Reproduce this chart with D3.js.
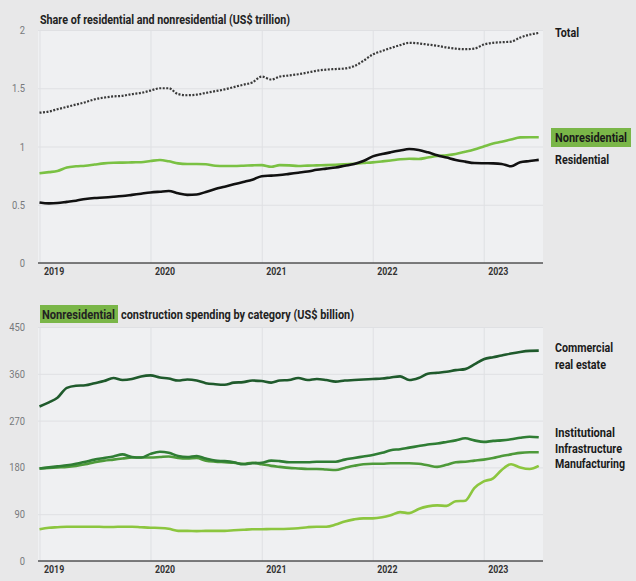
<!DOCTYPE html>
<html>
<head>
<meta charset="utf-8">
<script src="https://cdn.jsdelivr.net/npm/d3@7/dist/d3.min.js"></script>
<style>
  html, body { margin: 0; padding: 0; background: #e8e8e9; }
  svg { display: block; }
</style>
</head>
<body>
<svg id="chart" width="636" height="581"></svg>
<script>
// ---------- DATA ----------
const startYear = 2019;              // monthly series begin Jan 2019
const yearTicks = [2019, 2020, 2021, 2022, 2023];

const total = [1.29,1.30,1.32,1.34,1.36,1.38,1.405,1.42,1.43,1.435,1.45,1.46,1.48,1.50,1.50,1.45,1.44,1.445,1.46,1.475,1.49,1.51,1.53,1.55,1.60,1.575,1.60,1.61,1.62,1.635,1.65,1.66,1.665,1.67,1.69,1.735,1.79,1.82,1.845,1.87,1.89,1.885,1.875,1.865,1.85,1.84,1.835,1.84,1.875,1.89,1.895,1.90,1.935,1.96,1.975];
const nonresidential = [0.77,0.78,0.79,0.82,0.83,0.835,0.845,0.855,0.86,0.862,0.864,0.865,0.875,0.884,0.873,0.855,0.85,0.85,0.848,0.835,0.833,0.833,0.835,0.838,0.84,0.826,0.84,0.838,0.833,0.836,0.838,0.84,0.843,0.847,0.852,0.858,0.864,0.872,0.88,0.89,0.895,0.893,0.905,0.918,0.925,0.936,0.955,0.975,1.0,1.025,1.04,1.06,1.078,1.08,1.08];
const residential = [0.52,0.512,0.515,0.525,0.535,0.55,0.558,0.562,0.568,0.575,0.585,0.595,0.605,0.612,0.618,0.598,0.585,0.588,0.61,0.635,0.655,0.675,0.695,0.715,0.745,0.75,0.755,0.765,0.775,0.785,0.80,0.81,0.82,0.835,0.85,0.875,0.915,0.935,0.95,0.965,0.978,0.97,0.95,0.925,0.905,0.885,0.87,0.858,0.856,0.855,0.85,0.83,0.865,0.875,0.885];

const commercial = [297,305,314,333,337,338,342,346,352,348,350,355,357,353,351,347,349,347,342,340,339,343,344,347,346,343,347,348,352,348,350,348,345,347,348,349,350,351,353,355,348,352,360,362,364,367,369,378,388,392,395,399,402,404,404.5];
const institutional = [178,180,182,184,187,191,195,198,201,205,200,199,206,210,208,202,200,202,197,193,192,190,186,188,189,193,192,190,190,190,191,191,191,195,198,201,204,208,213,215,218,221,224,226,229,232,236,232,229,231,232,234,237,239,238];
const infrastructure = [178,179,180,181,183,186,190,193,195,197,199,199,199,200,201,198,197,198,193,191,190,189,187,189,186,183,181,179,178,177,177,176,175,179,183,186,187,187,188,188,188,187,184,181,185,190,191,193,195,198,202,205,208,209,209];
const manufacturing = [61,64,65,66,66,66,66,65.5,65.5,66,66,65,64,63.5,62,58,58,57.5,58,58,58,59,60,61,61,61.5,61.5,62,63,65,66,66,70,76,80,82,82,84,88,94,92,100,105,107,106,115,116,140,153,159,175,186,180,177,183];

const topTicks = [0, 0.5, 1, 1.5, 2];
const topTickLabels = ["0", "0.5", "1", "1.5", "2"];
const bottomTicks = [0, 90, 180, 270, 360, 450];

const topTitle = "Share of residential and nonresidential (US$ trillion)";
const bottomTitleHighlight = "Nonresidential";
const bottomTitleRest = "construction spending by category (US$ billion)";

// ---------- SETUP ----------
const svg = d3.select("#chart");
const font = "Roboto, 'Liberation Sans', sans-serif";
const dates = total.map((_, i) => new Date(startYear, i, 1));

// squeeze text horizontally to mimic the condensed face of the original
function squeeze(sel, factor) {
  sel.each(function () {
    const t = d3.select(this);
    const w = this.getComputedTextLength();
    t.attr("textLength", w * factor).attr("lengthAdjust", "spacingAndGlyphs");
  });
}

const plotL = 38, plotR = 543;
const x = d3.scaleTime()
  .domain([new Date(2019, 0, 1), new Date(2023, 6, 15)])
  .range([39.5, plotR]);

function panel(opts) {
  const g = svg.append("g");
  const y = d3.scaleLinear().domain(opts.domain).range([opts.bottom, opts.top]);
  g.append("rect")
    .attr("x", plotL).attr("y", opts.top)
    .attr("width", plotR - plotL).attr("height", opts.bottom - opts.top)
    .attr("fill", "#eff0f2");
  g.append("g")
    .attr("transform", `translate(${plotL},0)`)
    .call(d3.axisLeft(y).tickValues(opts.ticks).tickSize(-(plotR - plotL)).tickFormat(""))
    .call(a => a.select(".domain").remove())
    .call(a => a.selectAll(".tick line").attr("stroke", "#dfe0e3").attr("stroke-width", 1));
  g.append("g")
    .attr("transform", `translate(0,${opts.bottom})`)
    .call(d3.axisBottom(x).tickValues(yearTicks.map(yy => new Date(yy, 0, 1)))
      .tickSize(-(opts.bottom - opts.top)).tickFormat(""))
    .call(a => a.select(".domain").remove())
    .call(a => a.selectAll(".tick line").attr("stroke", "#dfe0e3").attr("stroke-width", 1));
  const yl = g.append("g")
    .attr("transform", `translate(${plotL - 10},0)`)
    .call(d3.axisLeft(y).tickValues(opts.ticks).tickSize(0).tickFormat((d, i) => opts.labels[i]))
    .call(a => a.select(".domain").remove());
  yl.selectAll("text")
    .attr("font-family", font).attr("font-size", 11).attr("fill", "#77797c");
  squeeze(yl.selectAll("text"), 0.85);
  const xl = g.append("g")
    .attr("transform", `translate(0,${opts.bottom})`)
    .call(d3.axisBottom(x).tickValues(yearTicks.map(yy => new Date(yy, 0, 1)))
      .tickSize(0).tickFormat(d3.timeFormat("%Y")))
    .call(a => a.select(".domain").remove());
  xl.selectAll("text")
    .attr("font-family", font).attr("font-size", 11).attr("font-weight", "bold")
    .attr("fill", "#333").attr("text-anchor", "start").attr("dx", 4).attr("dy", 9);
  squeeze(xl.selectAll("text"), 0.8);
  g.append("line")
    .attr("x1", plotL).attr("x2", plotR)
    .attr("y1", opts.bottom).attr("y2", opts.bottom)
    .attr("stroke", "#555").attr("stroke-width", 1.6);
  return { g, y };
}

function label(xp, yp, text, width, size) {
  return svg.append("text").attr("x", xp).attr("y", yp)
    .attr("font-family", font).attr("font-size", size || 12.5).attr("font-weight", "bold")
    .attr("fill", "#1a1a1a")
    .attr("textLength", width).attr("lengthAdjust", "spacingAndGlyphs")
    .text(text);
}

// ---------- TOP PANEL ----------
const topP = panel({ top: 30, bottom: 263, domain: [0, 2], ticks: topTicks, labels: topTickLabels });
label(40, 24, topTitle, 250, 12).attr("fill", "#222");

const lineTop = d3.line().x((d, i) => x(dates[i])).y(d => topP.y(d)).curve(d3.curveMonotoneX);
topP.g.append("path").datum(nonresidential).attr("d", lineTop)
  .attr("fill", "none").attr("stroke", "#7ac143").attr("stroke-width", 2.6);
topP.g.append("path").datum(residential).attr("d", lineTop)
  .attr("fill", "none").attr("stroke", "#111").attr("stroke-width", 2.6);
topP.g.append("path").datum(total).attr("d", lineTop)
  .attr("fill", "none").attr("stroke", "#3a3a3a").attr("stroke-width", 2.2)
  .attr("stroke-dasharray", "2 1.5");

label(555, 37, "Total", 24);
svg.append("rect").attr("x", 551).attr("y", 128).attr("width", 80).attr("height", 19).attr("fill", "#7ab648");
label(555, 142, "Nonresidential", 72);
label(555, 164, "Residential", 54);

// ---------- BOTTOM PANEL ----------
const botP = panel({ top: 327, bottom: 561, domain: [0, 450], ticks: bottomTicks, labels: bottomTicks.map(String) });
svg.append("rect").attr("x", 40).attr("y", 305).attr("width", 78).attr("height", 18).attr("fill", "#7ab648");
label(42, 318.5, bottomTitleHighlight, 73, 12).attr("fill", "#222");
label(121, 318.5, bottomTitleRest, 233, 12).attr("fill", "#222");

const lineBot = d3.line().x((d, i) => x(dates[i])).y(d => botP.y(d)).curve(d3.curveMonotoneX);
const botSeries = [
  { data: manufacturing, color: "#8cc63f" },
  { data: infrastructure, color: "#4e9a3a" },
  { data: institutional, color: "#2f7d34" },
  { data: commercial, color: "#1f5a2c" }
];
botSeries.forEach(s => {
  botP.g.append("path").datum(s.data).attr("d", lineBot)
    .attr("fill", "none").attr("stroke", s.color).attr("stroke-width", 2.6);
});

label(555, 352, "Commercial", 58);
label(555, 369, "real estate", 51);
label(555, 437, "Institutional", 60);
label(555, 453, "Infrastructure", 67);
label(555, 468, "Manufacturing", 70, 12);
</script>
</body>
</html>
